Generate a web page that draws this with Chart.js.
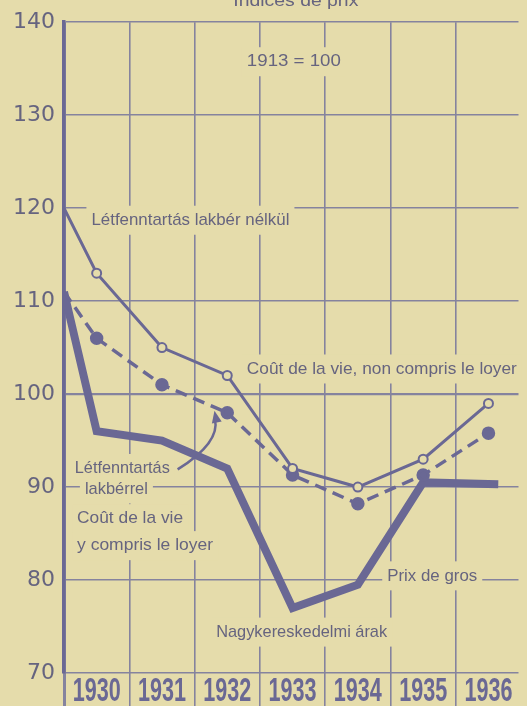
<!DOCTYPE html>
<html lang="hu">
<head>
<meta charset="UTF-8">
<title>Indices de prix</title>
<script src="https://cdn.jsdelivr.net/npm/chart.js"></script>
<style>
    html, body { margin: 0; padding: 0; background: #e5dcab; overflow: hidden; }
    #wrap { width: 527px; height: 706px; }
</style>
</head>
<body>
<div id="wrap"><canvas id="chart" width="527" height="706"></canvas></div>
<script>
// ---- data ----
const years = ['1930', '1931', '1932', '1933', '1934', '1935', '1936'];
const yTicks = [70, 80, 90, 100, 110, 120, 130, 140];

// x position on the year axis: 0 = start of 1930, n + 0.5 = middle of year n
const xPoints = [0, 0.5, 1.5, 2.5, 3.5, 4.5, 5.5, 6.5];
const xWholesale = [0, 0.5, 1.5, 2.5, 3.5, 4.5, 5.5, 6.65];

const costNoRent = [120, 113, 105, 102, 92, 90, 93, 99];        // Létfenntartás lakbér nélkül
const costWithRent = [111, 106, 101, 98, 91.3, 88.2, 91.3, 95.8]; // Létfenntartás lakbérrel
const wholesale = [111, 96, 95, 92, 77, 79.5, 90.5, 90.3];       // Nagykereskedelmi árak

const INK = '#6a6894';
const GRID = '#85839e';
const TEXT = '#66647f';
const PAPER = '#e5dcab';

const toXY = (xs, ys) => ys.map((v, i) => ({ x: xs[i], y: v }));

// text labels written into the plot, placed in axis units
const notes = [
    { text: 'Indices de prix', x: 3.55, y: 142.25, w: 125, align: 'center', mask: false },
    { text: '1913 = 100', x: 3.52, y: 135.75, w: 94, align: 'center', mask: true },
    { text: 'Létfenntartás lakbér nélkül', x: 0.42, y: 118.7, w: 198, align: 'left', mask: true },
    { text: 'Coût de la vie, non compris le loyer', x: 2.8, y: 102.7, w: 270, align: 'left', mask: true },
    { text: 'Létfenntartás', x: 0.165, y: 92.0, w: 95, align: 'left', mask: true },
    { text: 'lakbérrel', x: 0.32, y: 89.8, w: 63, align: 'left', mask: true },
    { text: 'Coût de la vie', x: 0.2, y: 86.6, w: 106, align: 'left', mask: true },
    { text: 'y compris le loyer', x: 0.2, y: 83.7, w: 136, align: 'left', mask: true },
    { text: 'Prix de gros', x: 4.95, y: 80.45, w: 90, align: 'left', mask: true },
    { text: 'Nagykereskedelmi árak', x: 2.33, y: 74.4, w: 171, align: 'left', mask: true }
];

// squeeze text horizontally so a normal width face looks like the narrow print
function squeezed(ctx, text, left, cy, width, font, color) {
    ctx.save();
    ctx.font = font;
    const scaleX = width / ctx.measureText(text).width;
    ctx.fillStyle = color;
    ctx.textBaseline = 'middle';
    ctx.translate(left, cy);
    ctx.scale(scaleX, 1);
    ctx.fillText(text, 0, 0);
    ctx.restore();
}

const notesPlugin = {
    id: 'notes',
    beforeDatasetsDraw(chart) {
        const { ctx, scales: { x, y } } = chart;
        const size = 17;
        notes.forEach(n => {
            const cy = y.getPixelForValue(n.y);
            let left = x.getPixelForValue(n.x);
            if (n.align === 'center') left -= n.w / 2;
            if (n.mask) {
                ctx.fillStyle = PAPER;
                ctx.fillRect(left - 5, cy - size / 2 - 6, n.w + 10, size + 12);
            }
            squeezed(ctx, n.text, left, cy, n.w, `${size}px "Liberation Sans", sans-serif`, TEXT);
        });
    },
    afterDatasetsDraw(chart) {
        // curved arrow from "Létfenntartás" up to the dashed line
        const { ctx, scales: { x, y } } = chart;
        const p0 = [x.getPixelForValue(1.74), y.getPixelForValue(91.9)];
        const c = [x.getPixelForValue(2.4), y.getPixelForValue(94.8)];
        const p1 = [x.getPixelForValue(2.31), y.getPixelForValue(98.0)];
        ctx.save();
        ctx.strokeStyle = INK;
        ctx.fillStyle = INK;
        ctx.lineWidth = 2.5;
        ctx.beginPath();
        ctx.moveTo(p0[0], p0[1]);
        ctx.quadraticCurveTo(c[0], c[1], p1[0], p1[1] + 6);
        ctx.stroke();
        const ang = Math.atan2(p1[1] - c[1], p1[0] - c[0]);
        ctx.translate(p1[0], p1[1]);
        ctx.rotate(ang);
        ctx.beginPath();
        ctx.moveTo(2, 0);
        ctx.lineTo(-10, -5);
        ctx.lineTo(-10, 5);
        ctx.closePath();
        ctx.fill();
        ctx.restore();
    },
    afterDraw(chart) {
        // year labels, bold and condensed, centred in each year band
        const { ctx, scales: { x } } = chart;
        years.forEach((yr, i) => {
            const cx = x.getPixelForValue(i + 0.5);
            squeezed(ctx, yr, cx - 24, 692, 48, 'bold 33px "Liberation Sans", sans-serif', INK);
        });
    }
};

new Chart(document.getElementById('chart').getContext('2d'), {
    type: 'line',
    data: {
        datasets: [
            {
                label: 'Coût de la vie, non compris le loyer',
                data: toXY(xPoints, costNoRent),
                borderColor: INK,
                borderWidth: 3,
                pointRadius: costNoRent.map((_, i) => i === 0 ? 0 : 4.5),
                pointBackgroundColor: PAPER,
                pointBorderColor: INK,
                pointBorderWidth: 2,
                order: 0
            },
            {
                label: 'Coût de la vie y compris le loyer',
                data: toXY(xPoints, costWithRent),
                borderColor: INK,
                borderWidth: 3.5,
                borderDash: [12, 7],
                pointRadius: costWithRent.map((_, i) => i === 0 ? 0 : 5),
                pointBackgroundColor: INK,
                pointBorderColor: INK,
                order: 1
            },
            {
                label: 'Prix de gros',
                data: toXY(xWholesale, wholesale),
                borderColor: INK,
                borderWidth: 8,
                borderJoinStyle: 'miter',
                pointRadius: 0,
                order: 2
            }
        ]
    },
    options: {
        responsive: false,
        animation: false,
        devicePixelRatio: 1,
        layout: { padding: { top: 14, left: 0, right: 0, bottom: 0 } },
        plugins: { legend: { display: false }, tooltip: { enabled: false } },
        scales: {
            x: {
                type: 'linear',
                min: 0,
                max: 6.96,
                afterBuildTicks: s => { s.ticks = years.map((_, i) => ({ value: i })); },
                afterFit: s => { s.height = 33; },
                grid: {
                    color: GRID,
                    lineWidth: c => c.tick.value === 0 ? 3 : 1.6,
                    drawTicks: true,
                    tickLength: 33
                },
                border: { display: false },
                ticks: { display: false }
            },
            y: {
                min: 70,
                max: 140,
                afterBuildTicks: s => { s.ticks = yTicks.map(v => ({ value: v })); },
                afterFit: s => { s.width = 64; },
                grid: {
                    color: GRID,
                    lineWidth: c => c.tick.value === 100 ? 2.2 : 1.6,
                    drawTicks: false
                },
                border: { display: true, color: INK, width: 3.5 },
                ticks: {
                    padding: 9,
                    color: TEXT,
                    font: { family: '"DejaVu Sans", sans-serif', size: 22 }
                }
            }
        }
    },
    plugins: [notesPlugin]
});
</script>
</body>
</html>
